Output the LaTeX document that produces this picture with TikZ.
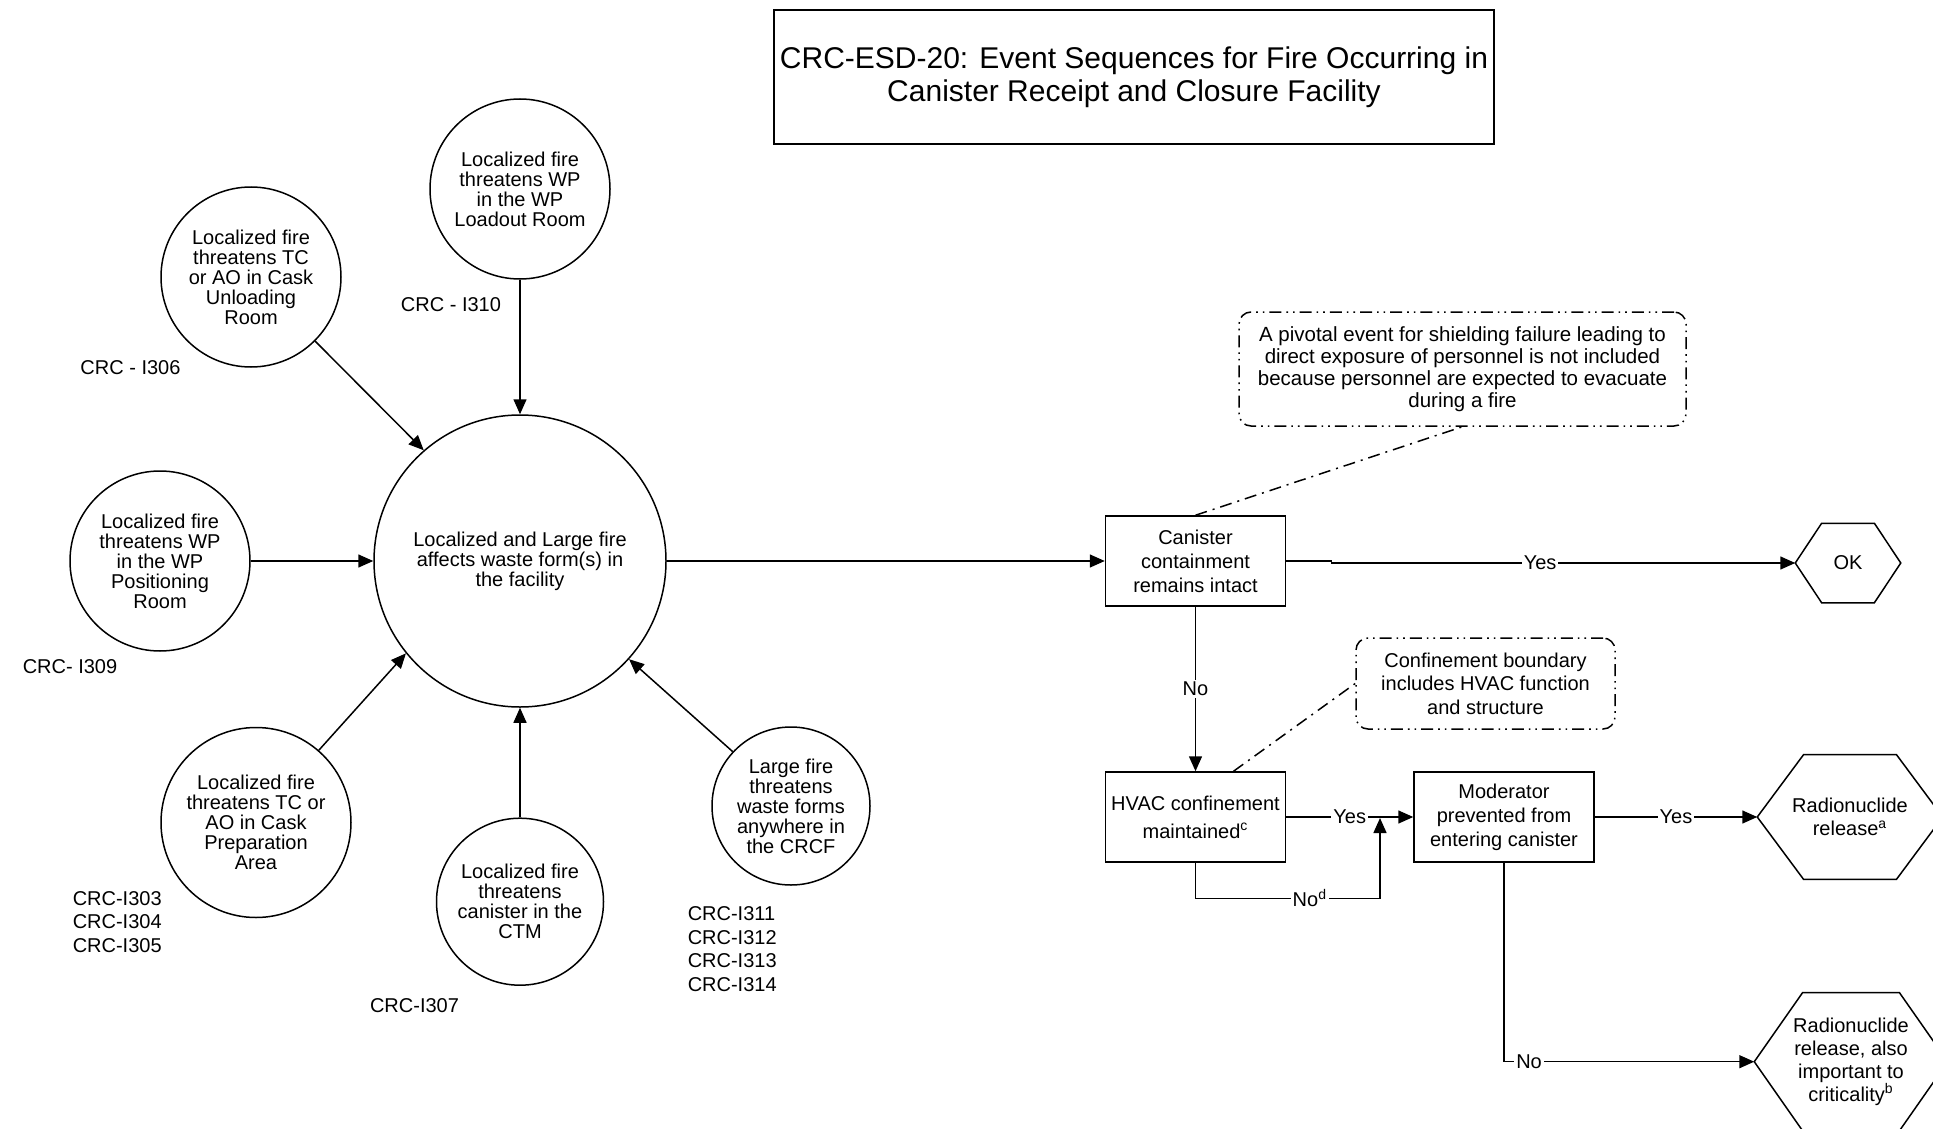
\documentclass[tikz,border=0pt]{standalone}
\usepackage{fontspec}
\setmainfont{Liberation Sans}
\usetikzlibrary{arrows.meta,calc}

% outline of an end-state hexagon around a (borderless) rectangular node
\newcommand\hexframe[1]{%
  \draw ($(#1.north west)!.25!(#1.north east)$) -- ($(#1.north west)!.75!(#1.north east)$)
    -- (#1.east) -- ($(#1.south west)!.75!(#1.south east)$)
    -- ($(#1.south west)!.25!(#1.south east)$) -- (#1.west) -- cycle;}

\begin{document}
\begin{tikzpicture}[x=0.5pt,y=-0.5pt,
  line width=0.75pt,
  every node/.style={font=\fontsize{10}{10}\selectfont, align=center, inner sep=0pt},
  fire/.style={draw, circle, minimum size=#1},
  evbox/.style={draw, rectangle, minimum width=90pt, minimum height=45pt,
    font=\fontsize{10}{12}\selectfont},
  endstate/.style={rectangle, font=\fontsize{10}{11.4}\selectfont},
  note/.style={draw, rounded corners=6pt,
    dash pattern=on 6pt off 2.5pt on 0.8pt off 2.5pt on 0.8pt off 2.5pt},
  link/.style={dash pattern=on 6pt off 3pt on 1pt off 3pt},
  flow/.style={-{Triangle[length=7.5pt,width=6.5pt]}},
  lbl/.style={fill=white, inner sep=1pt},
  idtag/.style={font=\fontsize{10}{11.8}\selectfont, align=left}
]
\fill[white] (0,0) rectangle (1933,1129);
\clip (0,0) rectangle (1933,1129);

% title
\node[draw, minimum width=360pt, minimum height=67pt,
      font=\fontsize{15}{16.5}\selectfont] (title) at (1134,77)
  {CRC-ESD-20: Event Sequences for Fire Occurring in\\Canister Receipt and Closure Facility};

% initiating events
\node[fire=146pt] (fire) at (520,561) {Localized and Large fire\\affects waste form(s) in\\the facility};
\node[fire=90pt] (loadout) at (520,189) {Localized fire\\threatens WP\\in the WP\\Loadout Room};
\node[fire=90pt] (unload) at (251,277) {Localized fire\\threatens TC\\or AO in Cask\\Unloading\\Room};
\node[fire=90pt] (posn) at (160,561) {Localized fire\\threatens WP\\in the WP\\Positioning\\Room};
\node[fire=95pt] (prep) at (256,822.5) {Localized fire\\threatens TC or\\AO in Cask\\Preparation\\Area};
\node[fire=83.5pt] (ctm) at (520,901.7) {Localized fire\\threatens\\canister in the\\CTM};
\node[fire=79pt] (large) at (791,806) {Large fire\\threatens\\waste forms\\anywhere in\\the CRCF};

% initiator identifiers
\node (id310) at (451,305) {CRC - I310};
\node (id306) at (130.5,368) {CRC - I306};
\node (id309) at (70,667) {CRC- I309};
\node[idtag, anchor=west] (id303) at (72,922) {CRC-I303\\CRC-I304\\CRC-I305};
\node (id307) at (414.5,1006) {CRC-I307};
\node[idtag, anchor=west] (id311) at (687,949) {CRC-I311\\CRC-I312\\CRC-I313\\CRC-I314};

% pivotal events
\node[evbox] (intact) at (1195.5,561) {Canister\\containment\\remains intact};
\node[evbox] (hvac) at (1195.5,817) {HVAC confinement\\[2pt]maintained\textsuperscript{c}};
\node[evbox] (moder) at (1504,817) {Moderator\\prevented from\\entering canister};

% end states
\node[endstate, minimum width=52pt, minimum height=39pt] (ok) at (1848,563) {OK};
\node[endstate, minimum width=92pt, minimum height=61.7pt] (rel) at (1850,817) {Radionuclide\\release\textsuperscript{a}};
\node[endstate, minimum width=96pt, minimum height=68.4pt] (relcrit) at (1851,1061.7)
  {Radionuclide\\release, also\\important to\\criticality\textsuperscript{b}};
\hexframe{ok}
\hexframe{rel}
\hexframe{relcrit}

% notes
\node[note, minimum width=223.5pt, minimum height=57pt,
      font=\fontsize{10.25}{11}\selectfont] (pivot) at (1462.5,369)
  {A pivotal event for shielding failure leading to\\direct exposure of personnel is not included\\because personnel are expected to evacuate\\during a fire};
\node[note, minimum width=129.5pt, minimum height=45.5pt,
      font=\fontsize{10}{11.75}\selectfont] (bound) at (1485.5,683.5)
  {Confinement boundary\\includes HVAC function\\and structure};

% initiators feeding the fire event
\draw[flow] (loadout.south) -- (fire.north);
\draw[flow] (unload.-45) -- (fire.131.5);
\draw[flow] (posn.east) -- (fire.west);
\draw[flow] (prep.49.5) -- (fire.219.5);
\draw[flow] (ctm.north) -- (fire.south);
\draw[flow] (large.137.4) -- (fire.-42.7);

% event sequence branches
\draw[flow] (fire.east) -- (intact.west);
\draw[flow] (intact.east) -- ++(45,0) -- ++(0,2) -- node[lbl, pos=0.45] {Yes} (ok.west);
\draw[flow] (intact.south) -- node[lbl] {No} (hvac.north);
\draw[flow] (hvac.east) -- node[lbl] {Yes} (moder.west);
\coordinate (merge) at (1380,818);
\draw[flow] (hvac.south) -- ++(0,35.5) -| node[lbl, pos=0.31] {No\textsuperscript{d}} (merge);
\draw[flow] (moder.east) -- node[lbl] {Yes} (rel.west);
\draw[flow] (moder.south) |- node[lbl, pos=0.55] {No} (relcrit.west);

% note leaders
\draw[link] (intact.north) -- (pivot.south);
\draw[link] ([xshift=19pt]hvac.north) -- (bound.west);
\end{tikzpicture}
\end{document}
